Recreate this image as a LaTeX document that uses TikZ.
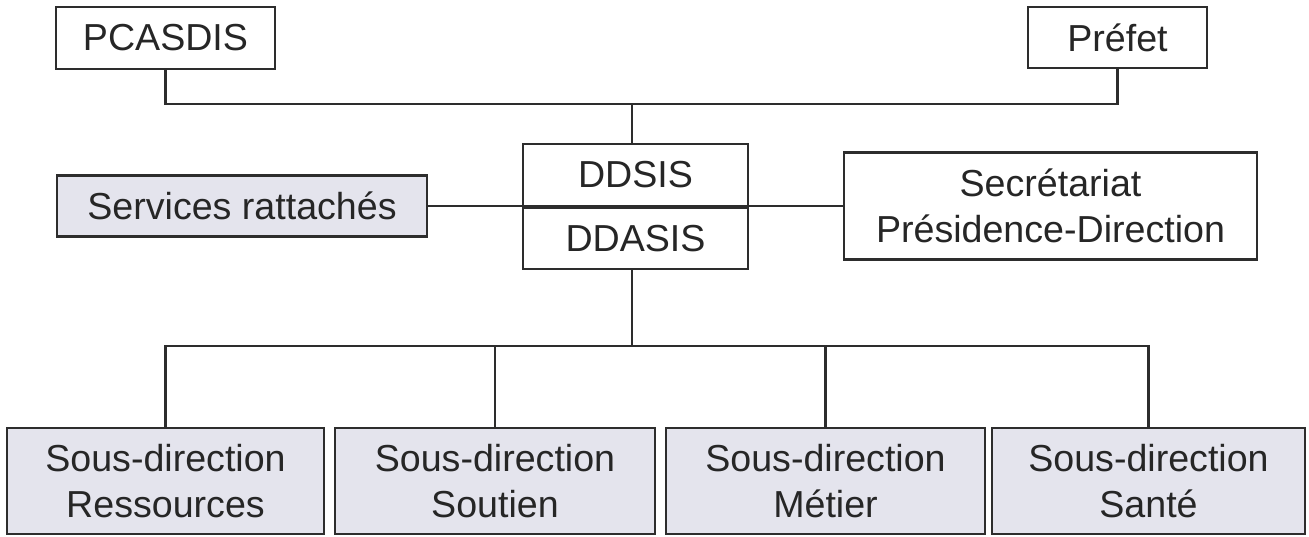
\documentclass[tikz,border=0pt]{standalone}
\usepackage{fontspec}
\setmainfont{Liberation Sans}
\definecolor{ink}{RGB}{38,38,38}
\definecolor{lineclr}{RGB}{45,45,45}
\definecolor{boxfill}{RGB}{228,228,237}
\begin{document}
\begin{tikzpicture}[x=1pt,y=-1pt,
  every node/.style={font=\fontsize{37.6}{46.5}\selectfont, text=ink},
  plain/.style={draw=lineclr, line width=2.2pt, fill=white, inner sep=0pt, align=center},
  shaded/.style={plain, fill=boxfill},
  conn/.style={draw=lineclr, line width=2.2pt}]
\useasboundingbox (0,0) rectangle (1309,536);
% top
\node[plain, minimum width=219, minimum height=62] (pca) at (165.5,38) {PCASDIS};
\node[plain, minimum width=179, minimum height=61] (pre) at (1117.5,37.5) {Préfet};
% centre
\node[plain, minimum width=225, minimum height=62] (dds) at (635.5,175) {DDSIS};
\node[plain, minimum width=225, minimum height=61, anchor=north] (dda) at (dds.south) {DDASIS};
\node[shaded, minimum width=370, minimum height=61] (srv) at (242,206) {Services rattachés};
\node[plain, minimum width=413, minimum height=107] (sec) at (1050.5,206) {Secrétariat\\Présidence-Direction};
% bottom
\node[shaded, minimum width=317, minimum height=106] (res) at (165.5,481) {Sous-direction\\Ressources};
\node[shaded, minimum width=320, minimum height=106] (sou) at (495,481) {Sous-direction\\Soutien};
\node[shaded, minimum width=319, minimum height=106] (met) at (825.5,481) {Sous-direction\\Métier};
\node[shaded, minimum width=313, minimum height=106] (san) at (1148.5,481) {Sous-direction\\Santé};
% buses
\coordinate (bustop) at (632,104);
\coordinate (busbot) at (632,346);
\draw[conn] (pca.south) |- (bustop) -| (pre.south);
\draw[conn] (bustop) -- (bustop |- dds.north);
\draw[conn] (srv.east) -- (srv.east -| dds.west);
\draw[conn] (sec.west) -- (sec.west -| dds.east);
\draw[conn] (busbot |- dda.south) -- (busbot);
\draw[conn] (res.north) |- (busbot) -| (san.north);
\draw[conn] (sou.north) -- (sou.north |- busbot);
\draw[conn] (met.north) -- (met.north |- busbot);
\end{tikzpicture}
\end{document}
